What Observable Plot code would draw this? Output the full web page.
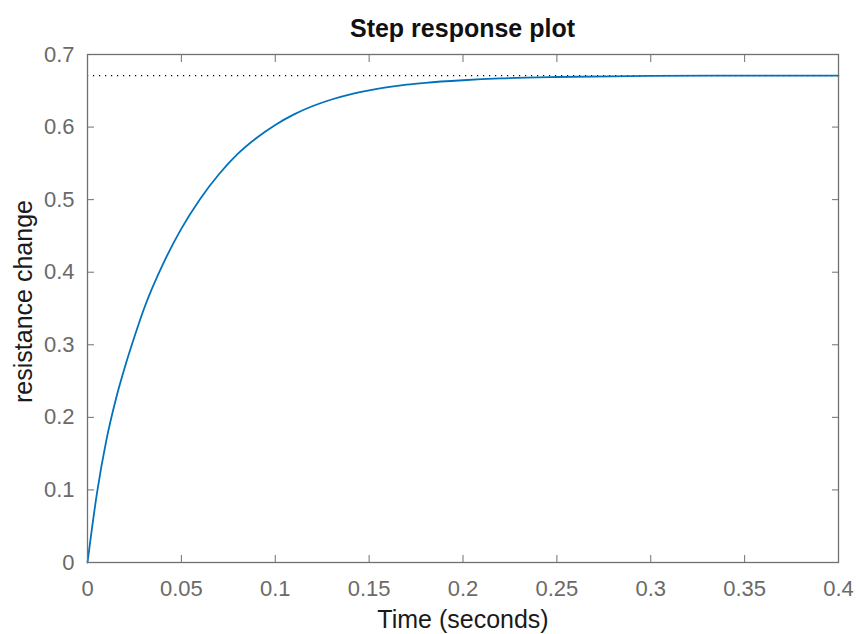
<!DOCTYPE html>
<html>
<head>
<meta charset="utf-8">
<script src="https://cdn.jsdelivr.net/npm/d3@7"></script>
<script src="https://cdn.jsdelivr.net/npm/@observablehq/plot@0.6"></script>
<style>
  html, body { margin: 0; padding: 0; background: #fff; }
  body { width: 856px; height: 634px; overflow: hidden; font-family: "Liberation Sans", Arial, sans-serif; }
  #title { height: 30px; line-height: 56px; font-size: 25px; font-weight: bold; color: #111;
           text-align: center; padding-left: 69px; box-sizing: border-box; white-space: nowrap; }
</style>
</head>
<body>
<div id="title">Step response plot</div>
<div id="chart"></div>
<script>
// Values
const timeSec = [0, 0.005, 0.01, 0.015, 0.02, 0.025, 0.03, 0.04, 0.05, 0.06, 0.07, 0.08, 0.09, 0.1, 0.11, 0.12, 0.13, 0.14, 0.15, 0.16, 0.17, 0.18, 0.2, 0.22, 0.25, 0.3, 0.35, 0.4];
const resistanceChange = [0, 0.095, 0.168, 0.224, 0.27, 0.311, 0.349, 0.41, 0.46, 0.501, 0.535, 0.563, 0.585, 0.603, 0.6175, 0.629, 0.638, 0.645, 0.6505, 0.655, 0.6585, 0.661, 0.6645, 0.667, 0.669, 0.6705, 0.671, 0.671];
const steadyState = 0.671;
const xTicks = [0, 0.05, 0.1, 0.15, 0.2, 0.25, 0.3, 0.35, 0.4];
const yTicks = [0, 0.1, 0.2, 0.3, 0.4, 0.5, 0.6, 0.7];
const xLabel = "Time (seconds)";
const yLabel = "resistance change";

const data = timeSec.map((t, i) => ({t, v: resistanceChange[i]}));
const fmt = d => String(+d.toFixed(2));
const tickColor = "#6a6a6a";

const chart = Plot.plot({
  width: 856,
  height: 604,
  marginLeft: 87,
  marginRight: 18,
  marginTop: 24,
  marginBottom: 72,
  style: {fontFamily: "'Liberation Sans', Arial, sans-serif", background: "#fff", overflow: "visible"},
  x: {domain: [0, 0.4]},
  y: {domain: [0, 0.7]},
  marks: [
    Plot.ruleY([steadyState], {stroke: "#000", strokeWidth: 1.2, strokeDasharray: "1.2,4.8"}),
    Plot.line(data, {x: "t", y: "v", stroke: "#0072BD", strokeWidth: 1.8, curve: "monotone-x"}),
    Plot.frame({stroke: "#707070", strokeWidth: 1.3}),
    // inward tick marks on all four sides
    Plot.axisX({anchor: "bottom", ticks: xTicks, tickSize: -7, tickFormat: () => "", label: null, stroke: "#707070"}),
    Plot.axisX({anchor: "top", ticks: xTicks, tickSize: -7, tickFormat: () => "", label: null, stroke: "#707070"}),
    Plot.axisY({anchor: "left", ticks: yTicks, tickSize: -7, tickFormat: () => "", label: null, stroke: "#707070"}),
    Plot.axisY({anchor: "right", ticks: yTicks, tickSize: -7, tickFormat: () => "", label: null, stroke: "#707070"}),
    // tick labels
    Plot.axisX({anchor: "bottom", ticks: xTicks, tickSize: 0, tickPadding: 18, tickFormat: fmt, label: null, fontSize: 22, fill: tickColor}),
    Plot.axisY({anchor: "left", ticks: yTicks, tickSize: 0, tickPadding: 13, tickFormat: fmt, label: null, fontSize: 22, fill: tickColor}),
    // axis titles
    Plot.text([xLabel], {frameAnchor: "bottom", dy: 57, lineAnchor: "middle", textAnchor: "middle", text: d => d, fontSize: 25, fill: "#1a1a1a"}),
    Plot.text([yLabel], {frameAnchor: "left", dx: -64, dy: -7, rotate: -90, lineAnchor: "middle", textAnchor: "middle", text: d => d, fontSize: 25, fill: "#1a1a1a"})
  ]
});
document.getElementById("chart").appendChild(chart);
</script>
</body>
</html>
